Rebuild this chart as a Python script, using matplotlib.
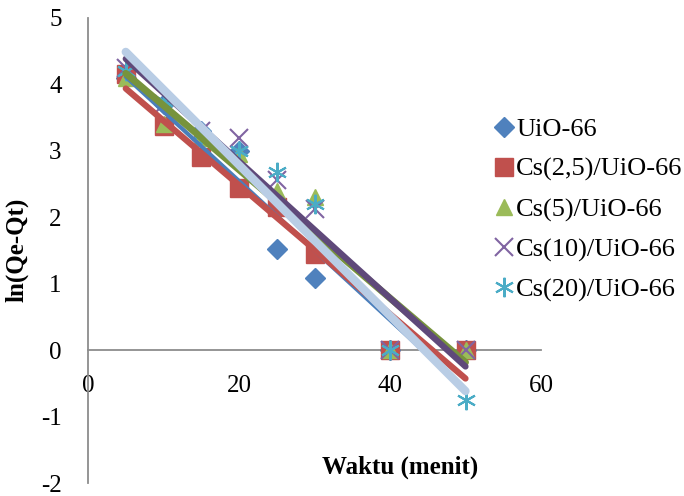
import numpy as np
import matplotlib
matplotlib.use("Agg")
from matplotlib import pyplot as plt

plt.rcParams['font.family'] = ['Liberation Serif', 'DejaVu Serif']
plt.rcParams['axes.unicode_minus'] = False

# data
waktu = [5, 10, 15, 20, 25, 30, 40, 50]
uio66 = [4.1, 3.7, 3.3, 3.0, 1.53, 1.08, 0, 0]
cs25 = [4.15, 3.38, 2.9, 2.44, 2.15, 1.45, 0, 0]
cs5 = [4.1, 3.4, 3.2, 2.95, 2.4, 2.3, 0, 0]
cs10 = [4.25, 3.7, 3.3, 3.2, 2.56, 2.12, 0, 0]
cs20 = [4.2, 3.75, 3.25, 3.0, 2.68, 2.2, 0, -0.75]

labels = ['UiO-66', 'Cs(2,5)/UiO-66', 'Cs(5)/UiO-66', 'Cs(10)/UiO-66', 'Cs(20)/UiO-66']
series = [uio66, cs25, cs5, cs10, cs20]

# gaya
marker_warna = ['#4F81BD', '#C0504D', '#9BBB59', '#8064A2', '#4BACC6']
marker_bentuk = ['D', 's', '^', 'x', (6, 2, 0)]
marker_ukuran = [10, 13, 12, 13, 14]
garis_warna = ['#4A7EBB', '#C0504D', '#77933C', '#5F497A', '#B9CDE5']
garis_lebar = [3, 4.5, 5, 4.5, 6]

fig = plt.figure(figsize=(6.84, 4.96), dpi=100)
ax = fig.add_axes([88/684, 1-483/496, (541-88)/684, (483-18)/496])

handles = []
for y, lab, c, m, s in zip(series, labels, marker_warna, marker_bentuk, marker_ukuran):
    if m in ('x', (6, 2, 0)):
        h, = ax.plot(waktu, y, linestyle='none', marker=m, markersize=s,
                     color=c, markeredgewidth=1.5, label=lab, zorder=3)
    else:
        h, = ax.plot(waktu, y, linestyle='none', marker=m, markersize=s,
                     color=c, markeredgecolor=c, label=lab, zorder=3)
    handles.append(h)

# garis tren linear
xs = np.array([waktu[0], waktu[-1]])
for y, c, lw in zip(series, garis_warna, garis_lebar):
    k, b = np.polyfit(waktu, y, 1)
    ax.plot(xs, k*xs + b, color=c, linewidth=lw, solid_capstyle='round', zorder=4)

ax.set_xlim(0, 60)
ax.set_ylim(-2, 5)
ax.set_xticks([0, 20, 40, 60])
ax.set_yticks(range(-2, 6))
ax.spines['top'].set_visible(False)
ax.spines['right'].set_visible(False)
ax.spines['bottom'].set_position(('data', 0))
for sp in ('left', 'bottom'):
    ax.spines[sp].set_color('#8C8C8C')
    ax.spines[sp].set_linewidth(1.3)
ax.tick_params(axis='both', length=0, labelsize=18)
ax.tick_params(axis='x', pad=18)
ax.tick_params(axis='y', pad=19)

fig.text(17/684, 1-250/496, 'ln(Qe-Qt)', rotation=90, ha='center', va='center',
         fontsize=18, fontweight='bold')
fig.text(400/684, 1-467/496, 'Waktu (menit)', ha='center', va='center',
         fontsize=18, fontweight='bold')

fig.legend(handles=handles, loc='upper left', bbox_to_anchor=(486/684, 1-107/496),
           frameon=False, fontsize=19, handlelength=0.6, handletextpad=0.15,
           labelspacing=0.62, borderaxespad=0)

fig.savefig('out.png', dpi=100)
